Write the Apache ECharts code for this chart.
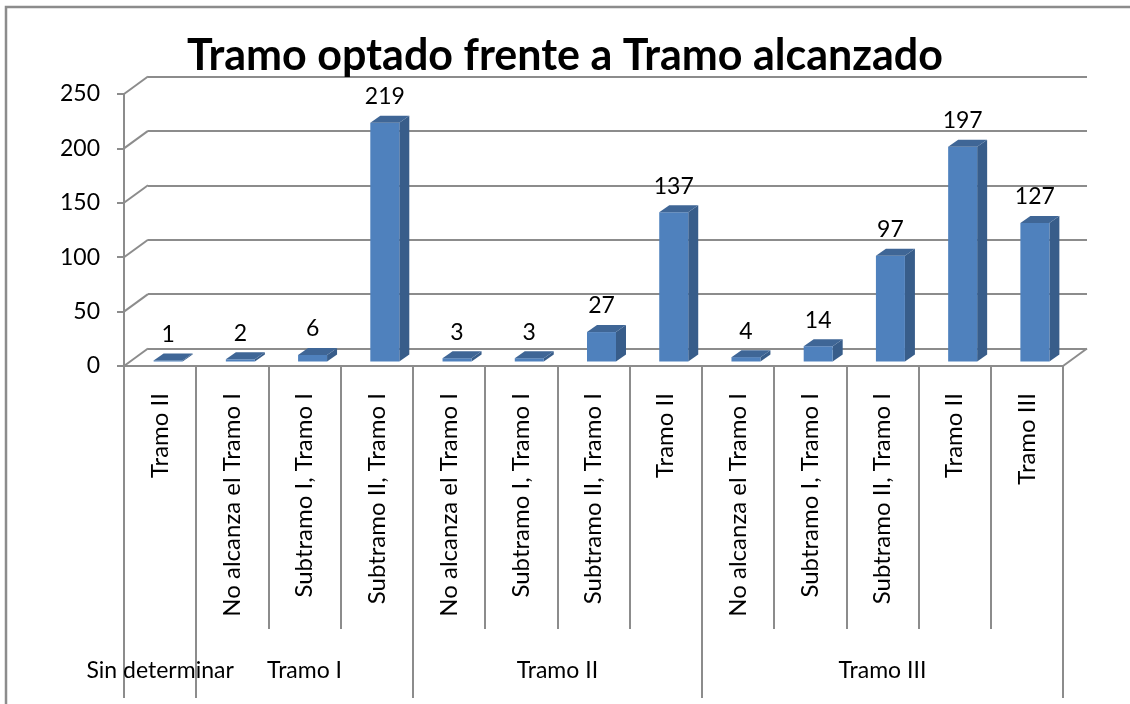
<!DOCTYPE html>
<html>
<head>
<meta charset="utf-8">
<title>Tramo optado frente a Tramo alcanzado</title>
<script src="https://cdn.jsdelivr.net/npm/echarts@6/dist/echarts.min.js"></script>
<style>
    html, body { margin: 0; padding: 0; background: #fff; }
    #chart_main { width: 1130px; height: 704px; }
</style>
</head>
<body>
<div id="chart_main"></div>
<script>
// 数据
var categories = ['Tramo II', 'No alcanza el Tramo I', 'Subtramo I, Tramo I', 'Subtramo II, Tramo I',
    'No alcanza el Tramo I', 'Subtramo I, Tramo I', 'Subtramo II, Tramo I', 'Tramo II',
    'No alcanza el Tramo I', 'Subtramo I, Tramo I', 'Subtramo II, Tramo I', 'Tramo II', 'Tramo III'];
var values = [1, 2, 6, 219, 3, 3, 27, 137, 4, 14, 97, 197, 127];
var groupNames = ['Sin determinar', 'Tramo I', 'Tramo II', 'Tramo III'];
var groupSizes = [1, 3, 4, 5];
var yTicks = [0, 50, 100, 150, 200, 250];

(function () {
    var FONT = 'Lato';
    var GRID_COLOR = '#8c8c8c';
    var FRONT = '#4f81bd', SIDE = '#385d8a', TOP = '#3f6696';
    var BAR_W = 29, BAR_DX = 10, BAR_DY = 7;   // 柱子的立体偏移
    var WALL_DX = 24, WALL_DY = 17.5;          // 背景墙的深度

    // 分组轴：两倍细分，边界和中心都落在刻度点上
    var groupAxisData = [];
    var groupBounds = {}, groupCenters = {};
    for (var k = 0; k <= categories.length * 2; k++) groupAxisData.push(String(k));
    var start = 0;
    groupBounds[0] = true;
    for (var g = 0; g < groupSizes.length; g++) {
        groupCenters[start * 2 + groupSizes[g]] = groupNames[g];
        start += groupSizes[g];
        groupBounds[start * 2] = true;
    }

    var myChart = echarts.init(document.getElementById('chart_main'));

    // 左侧墙和地板右边的斜线
    function renderWall(params, api) {
        var v = api.value(1);
        var p = api.coord([0, v]);
        var left = params.coordSys.x;
        var lines = [{
            type: 'line',
            shape: { x1: left, y1: p[1], x2: left + WALL_DX, y2: p[1] - WALL_DY },
            style: { stroke: GRID_COLOR, lineWidth: 2 }
        }];
        if (v === 0) {
            var right = left + params.coordSys.width;
            lines.push({
                type: 'line',
                shape: { x1: right, y1: p[1], x2: right + WALL_DX, y2: p[1] - WALL_DY },
                style: { stroke: GRID_COLOR, lineWidth: 2 }
            });
        }
        return { type: 'group', children: lines };
    }

    // 立体柱子：侧面、正面、顶面和数值标签
    function renderBar(params, api) {
        var i = api.value(0), v = api.value(1);
        var top = api.coord([i, v]), base = api.coord([i, 0]);
        var x0 = top[0] - BAR_W / 2, x1 = top[0] + BAR_W / 2;
        return {
            type: 'group',
            children: [{
                type: 'polygon',
                shape: { points: [[x1, top[1]], [x1 + BAR_DX, top[1] - BAR_DY], [x1 + BAR_DX, base[1] - BAR_DY], [x1, base[1]]] },
                style: { fill: SIDE }
            }, {
                type: 'rect',
                shape: { x: x0, y: top[1], width: BAR_W, height: base[1] - top[1] },
                style: { fill: FRONT }
            }, {
                type: 'polygon',
                shape: { points: [[x0, top[1]], [x0 + BAR_DX, top[1] - BAR_DY], [x1 + BAR_DX, top[1] - BAR_DY], [x1, top[1]]] },
                style: { fill: TOP }
            }, {
                type: 'text',
                x: top[0],
                y: top[1] - 26,
                style: { text: String(v), fill: '#000', fontSize: 23, fontFamily: FONT, align: 'center', verticalAlign: 'middle' }
            }]
        };
    }

    var option = {
        animation: false,
        title: {
            text: 'Tramo optado frente a Tramo alcanzado',
            left: 'center',
            top: 30,
            textStyle: { fontFamily: FONT, fontWeight: 'bold', fontSize: 43, color: '#000' }
        },
        graphic: [{
            type: 'rect',
            shape: { x: 6, y: 7, width: 1300, height: 900 },
            style: { fill: 'none', stroke: GRID_COLOR, lineWidth: 2.5 },
            silent: true
        }],
        grid: [
            // 前面（坐标轴）
            { left: 124, right: 67, top: 94, bottom: 338 },
            // 背景墙
            { left: 148, right: 43, top: 76.5, bottom: 355.5 },
            // 柱子所在的中间层
            { left: 132, right: 59, top: 89, bottom: 342.5 }
        ],
        xAxis: [{
            type: 'category', gridIndex: 0, position: 'bottom',
            data: categories,
            axisLine: { lineStyle: { color: GRID_COLOR, width: 2 } },
            axisTick: { show: true, interval: 0, length: 263, lineStyle: { color: GRID_COLOR, width: 2 } },
            axisLabel: { interval: 0, rotate: 90, margin: 27, fontSize: 24, fontFamily: FONT, color: '#000' }
        }, {
            type: 'category', gridIndex: 0, position: 'bottom', offset: 0,
            boundaryGap: false,
            data: groupAxisData,
            axisLine: { show: false },
            axisTick: {
                show: true, length: 332,
                interval: function (index) { return !!groupBounds[index]; },
                lineStyle: { color: GRID_COLOR, width: 2 }
            },
            axisLabel: {
                margin: 293, fontSize: 23, fontFamily: FONT, color: '#000',
                interval: function (index) { return !!groupCenters[index]; },
                formatter: function (value, index) { return groupCenters[index] || ''; }
            }
        }, {
            type: 'category', gridIndex: 1, data: categories, show: false
        }, {
            type: 'category', gridIndex: 2, data: categories, show: false
        }],
        yAxis: [{
            type: 'value', gridIndex: 0, min: 0, max: 250, interval: 50,
            axisLine: { show: true, lineStyle: { color: GRID_COLOR, width: 2 } },
            axisTick: { show: true, length: 7, lineStyle: { color: GRID_COLOR, width: 2 } },
            axisLabel: { margin: 24, fontSize: 23, fontFamily: FONT, color: '#000' },
            splitLine: { show: false }
        }, {
            type: 'value', gridIndex: 1, min: 0, max: 250, interval: 50,
            axisLine: { show: false }, axisTick: { show: false }, axisLabel: { show: false },
            splitLine: { show: true, lineStyle: { color: GRID_COLOR, width: 2 } }
        }, {
            type: 'value', gridIndex: 2, min: 0, max: 250, interval: 50, show: false,
            splitLine: { show: false }
        }],
        series: [{
            name: 'pared',
            type: 'custom',
            xAxisIndex: 0, yAxisIndex: 0,
            silent: true,
            renderItem: renderWall,
            data: yTicks.map(function (t) { return [0, t]; })
        }, {
            name: 'Tramo alcanzado',
            type: 'custom',
            xAxisIndex: 3, yAxisIndex: 2,
            renderItem: renderBar,
            data: values.map(function (v, i) { return [i, v]; })
        }]
    };
    myChart.setOption(option);
})();
</script>
</body>
</html>
